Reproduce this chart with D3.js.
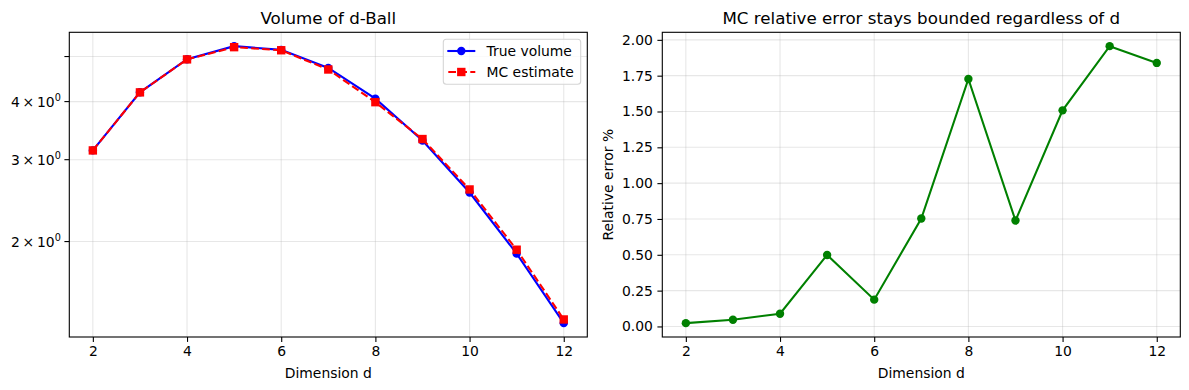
<!DOCTYPE html>
<html><head><meta charset="utf-8">
<script src="https://cdn.jsdelivr.net/npm/d3@7"></script>
<style>
body{margin:0;background:#fff;}
text{font-family:"DejaVu Sans",sans-serif;fill:#000;}
</style></head>
<body>
<svg id="c" width="1189" height="390"></svg>
<script>
const dims = [2,3,4,5,6,7,8,9,10,11,12];
const trueVolume = [3.1416,4.1888,4.9348,5.2638,5.1677,4.7248,4.0587,3.2985,2.5502,1.8841,1.3353];
const mcEstimate = [3.1409,4.1868,4.9304,5.2375,5.1580,4.6892,3.9885,3.3229,2.5887,1.9210,1.3599];
const relError = [0.023,0.047,0.089,0.499,0.187,0.753,1.727,0.739,1.508,1.956,1.839];
const xTicks = [2,4,6,8,10,12];
const leftYTicks = [2,3,4,5];
const leftYLabels = ["2","3","4",""];
const rightYTicks = [0,0.25,0.5,0.75,1.0,1.25,1.5,1.75,2.0];

const svg = d3.select("#c");
const axTop = 32.3, axBottom = 337;
const gridCol = "rgba(176,176,176,0.3)";

function frame(g, x0, x1){
  g.append("rect").attr("x",x0).attr("y",axTop).attr("width",x1-x0).attr("height",axBottom-axTop)
   .attr("fill","none").attr("stroke","#000").attr("stroke-width",1.1);
}
function xAxis(g, x, x0, x1){
  xTicks.forEach(t=>{
    g.append("line").attr("x1",x(t)).attr("x2",x(t)).attr("y1",axTop).attr("y2",axBottom)
      .attr("stroke",gridCol).attr("stroke-width",1.1);
  });
  const ax = g.append("g").attr("transform",`translate(0,${axBottom})`)
    .call(d3.axisBottom(x).tickValues(xTicks).tickSize(4.9).tickPadding(4.5).tickFormat(d3.format("d")));
  ax.select(".domain").remove();
  ax.selectAll("line").attr("stroke","#000").attr("stroke-width",1.1);
  ax.selectAll("text").attr("font-size","13.9px").attr("font-family","DejaVu Sans");
  g.append("text").attr("x",(x0+x1)/2).attr("y",377.5).attr("text-anchor","middle")
    .attr("font-size","13.9px").text("Dimension d");
}

// ---------- Left chart ----------
{
  const x0 = 69.3, x1 = 587.3;
  const g = svg.append("g");
  const x = d3.scaleLinear().domain([1.5,12.5]).range([x0,x1]);
  const lo = Math.log10(1.3353), hi = Math.log10(5.2638), m = (hi-lo)*0.05;
  const y = d3.scaleLog().domain([Math.pow(10,lo-m), Math.pow(10,hi+m)]).range([axBottom,axTop]);
  leftYTicks.forEach(t=>{
    g.append("line").attr("x1",x0).attr("x2",x1).attr("y1",y(t)).attr("y2",y(t))
      .attr("stroke",gridCol).attr("stroke-width",1.1);
  });
  xAxis(g, x, x0, x1);
  leftYTicks.forEach((t,i)=>{
    g.append("line").attr("x1",x0-4.9).attr("x2",x0).attr("y1",y(t)).attr("y2",y(t))
      .attr("stroke","#000").attr("stroke-width",1.1);
    if(leftYLabels[i]){
      const tx = g.append("text").attr("x",x0-8.5).attr("y",y(t)+5).attr("text-anchor","end")
        .attr("font-size","13.9px");
      tx.append("tspan").text(leftYLabels[i]+"\u2009\u00d7\u200910");
      tx.append("tspan").attr("dy","-5.5").attr("font-size","9.7px").text("0");
    }
  });
  const line = d3.line().x((d,i)=>x(dims[i])).y(d=>y(d));
  g.append("path").datum(trueVolume).attr("d",line).attr("fill","none").attr("stroke","#0000ff").attr("stroke-width",2.08);
  g.selectAll(".tc").data(trueVolume).enter().append("circle")
    .attr("cx",(d,i)=>x(dims[i])).attr("cy",d=>y(d)).attr("r",4.2).attr("fill","#0000ff");
  g.append("path").datum(mcEstimate).attr("d",line).attr("fill","none").attr("stroke","#ff0000")
    .attr("stroke-width",2.08).attr("stroke-dasharray","7.7,3.3");
  g.selectAll(".mc").data(mcEstimate).enter().append("rect")
    .attr("x",(d,i)=>x(dims[i])-4.2).attr("y",d=>y(d)-4.2).attr("width",8.4).attr("height",8.4).attr("fill","#ff0000");
  frame(g, x0, x1);
  g.append("text").attr("x",(x0+x1)/2).attr("y",23.5).attr("text-anchor","middle")
    .attr("font-size","16.7px").text("Volume of d-Ball");
  // legend
  const lg = g.append("g");
  lg.append("rect").attr("x",443.3).attr("y",39.3).attr("width",137.4).attr("height",45)
    .attr("rx",3).attr("fill","rgba(255,255,255,0.8)").attr("stroke","#d5d5d5").attr("stroke-width",1.1);
  const items = [
    {label:"True volume", color:"#0000ff", dash:null, shape:"circle"},
    {label:"MC estimate", color:"#ff0000", dash:"7.7,3.3", shape:"square"}
  ];
  items.forEach((it,i)=>{
    const cy = 51 + i*21;
    const l = lg.append("line").attr("x1",447.3).attr("x2",475.3).attr("y1",cy).attr("y2",cy)
      .attr("stroke",it.color).attr("stroke-width",2.08);
    if(it.dash) l.attr("stroke-dasharray",it.dash).attr("stroke-dashoffset",-1);
    if(it.shape==="circle") lg.append("circle").attr("cx",461.3).attr("cy",cy).attr("r",4.2).attr("fill",it.color);
    else lg.append("rect").attr("x",461.3-4.2).attr("y",cy-4.2).attr("width",8.4).attr("height",8.4).attr("fill",it.color);
    lg.append("text").attr("x",486.5).attr("y",cy+5).attr("font-size","13.9px").text(it.label);
  });
}

// ---------- Right chart ----------
{
  const x0 = 662.3, x1 = 1180.3;
  const g = svg.append("g");
  const x = d3.scaleLinear().domain([1.5,12.5]).range([x0,x1]);
  const lo = d3.min(relError), hi = d3.max(relError), m = (hi-lo)*0.05;
  const y = d3.scaleLinear().domain([lo-m, hi+m]).range([axBottom,axTop]);
  rightYTicks.forEach(t=>{
    g.append("line").attr("x1",x0).attr("x2",x1).attr("y1",y(t)).attr("y2",y(t))
      .attr("stroke",gridCol).attr("stroke-width",1.1);
  });
  xAxis(g, x, x0, x1);
  const ay = g.append("g").attr("transform",`translate(${x0},0)`)
    .call(d3.axisLeft(y).tickValues(rightYTicks).tickSize(4.9).tickPadding(4.5).tickFormat(d3.format(".2f")));
  ay.select(".domain").remove();
  ay.selectAll("line").attr("stroke","#000").attr("stroke-width",1.1);
  ay.selectAll("text").attr("font-size","13.9px").attr("font-family","DejaVu Sans");
  const line = d3.line().x((d,i)=>x(dims[i])).y(d=>y(d));
  g.append("path").datum(relError).attr("d",line).attr("fill","none").attr("stroke","#008000").attr("stroke-width",2.08);
  g.selectAll(".re").data(relError).enter().append("circle")
    .attr("cx",(d,i)=>x(dims[i])).attr("cy",d=>y(d)).attr("r",4.2).attr("fill","#008000");
  frame(g, x0, x1);
  g.append("text").attr("x",(x0+x1)/2).attr("y",23.5).attr("text-anchor","middle")
    .attr("font-size","16.7px").text("MC relative error stays bounded regardless of d");
  g.append("text").attr("transform",`translate(612.5,${(axTop+axBottom)/2}) rotate(-90)`)
    .attr("text-anchor","middle").attr("font-size","13.9px").text("Relative error %");
}
</script>
</body></html>
